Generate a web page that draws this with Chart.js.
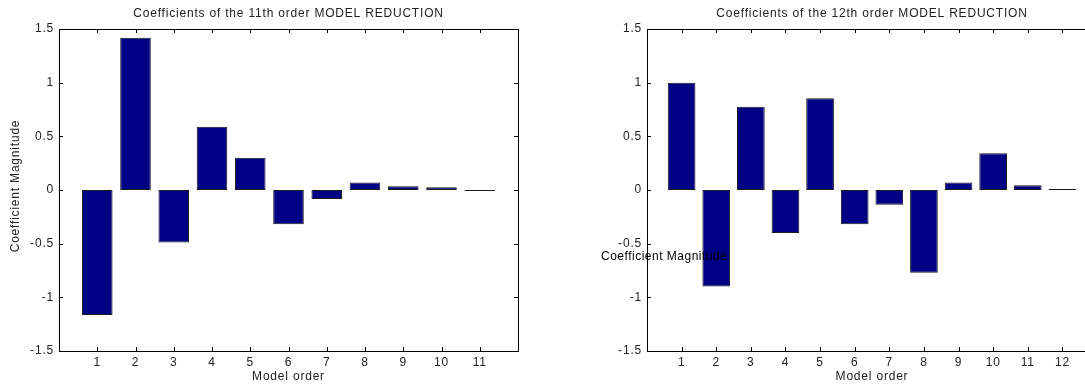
<!DOCTYPE html>
<html lang="en">
<head>
    <title>Coefficients of the MODEL REDUCTION</title>
    <meta charset="UTF-8">
    <style>
        html, body {
            margin: 0;
            padding: 0;
            background: #fff;
            overflow: hidden;
        }
        #page {
            position: relative;
            width: 1085px;
            height: 385px;
            overflow: hidden;
        }
        canvas {
            position: absolute;
            top: 0;
        }
        #chart-11 {
            left: 0;
        }
        #chart-12 {
            left: 545px;
        }
    </style>
</head>
<body>
<div id="page">
    <canvas id="chart-11" width="545" height="385"></canvas>
    <canvas id="chart-12" width="600" height="385"></canvas>
</div>
<script src="https://cdn.jsdelivr.net/npm/chart.js"></script>
<script>
    // values
    const orders11 = [1, 2, 3, 4, 5, 6, 7, 8, 9, 10, 11];
    const coefs11 = [-1.165, 1.418, -0.49, 0.59, 0.30, -0.32, -0.084, 0.07, 0.035, 0.025, -0.01];

    const orders12 = [1, 2, 3, 4, 5, 6, 7, 8, 9, 10, 11, 12];
    const coefs12 = [1.0, -0.90, 0.776, -0.40, 0.854, -0.32, -0.137, -0.772, 0.07, 0.343, 0.044, 0.01];

    const yTicks = [-1.5, -1, -0.5, 0, 0.5, 1, 1.5];

    const FONT = "Arial, 'Liberation Sans', sans-serif";
    const TEXT = '#222';

    // frame, inward tick marks and texts in the MATLAB style
    const matlabFrame = {
        id: 'matlabFrame',
        beforeDraw(chart) {
            chart.ctx.letterSpacing = '0.8px';
        },
        afterDraw(chart, args, opts) {
            const ctx = chart.ctx;
            const a = chart.chartArea;
            const xs = chart.scales.x;
            const ys = chart.scales.y;
            ctx.save();
            ctx.strokeStyle = '#000';
            ctx.lineWidth = 1;
            ctx.strokeRect(Math.round(a.left) + 0.5, Math.round(a.top) + 0.5,
                Math.round(a.right - a.left), Math.round(a.bottom - a.top));

            ctx.beginPath();
            opts.orders.forEach(o => {
                const px = Math.round(xs.getPixelForValue(o)) + 0.5;
                ctx.moveTo(px, a.top); ctx.lineTo(px, a.top + 4);
                ctx.moveTo(px, a.bottom); ctx.lineTo(px, a.bottom - 4);
            });
            yTicks.forEach(v => {
                const py = Math.round(ys.getPixelForValue(v)) + 0.5;
                ctx.moveTo(a.left, py); ctx.lineTo(a.left + 4, py);
                ctx.moveTo(a.right, py); ctx.lineTo(a.right - 4, py);
            });
            ctx.stroke();

            ctx.fillStyle = TEXT;
            ctx.font = '12px ' + FONT;
            ctx.letterSpacing = '0.8px';
            ctx.textAlign = 'center';
            ctx.textBaseline = 'middle';
            const cx = (a.left + a.right) / 2;
            ctx.fillText(opts.title, cx, 14);
            ctx.fillText('Model order', cx, 377);

            if (opts.rotatedLabel) {
                ctx.save();
                ctx.translate(16, 186);
                ctx.rotate(-Math.PI / 2);
                ctx.fillText('Coefficient Magnitude', 0, 0);
                ctx.restore();
            } else {
                ctx.fillStyle = '#000';
                ctx.letterSpacing = '0.5px';
                ctx.textAlign = 'left';
                ctx.fillText('Coefficient Magnitude', 56, 257);
            }
            ctx.restore();
        }
    };

    function makeChart(canvasId, orders, coefs, xMax, yWidth, padRight, title, rotatedLabel) {
        const ctx = document.getElementById(canvasId).getContext('2d');
        return new Chart(ctx, {
            type: 'bar',
            data: {
                datasets: [{
                    data: orders.map((o, i) => ({ x: o, y: coefs[i] })),
                    backgroundColor: '#000085',
                    borderColor: '#1a1a1a',
                    borderWidth: 1,
                    borderSkipped: false,
                    barPercentage: 0.8,
                    categoryPercentage: 1.0
                }]
            },
            options: {
                responsive: false,
                animation: false,
                devicePixelRatio: 1,
                layout: {
                    padding: { top: 29, right: padRight, left: 0, bottom: 0 }
                },
                plugins: {
                    legend: { display: false },
                    tooltip: { enabled: false },
                    matlabFrame: { title: title, orders: orders, rotatedLabel: rotatedLabel }
                },
                scales: {
                    x: {
                        type: 'linear',
                        offset: false,
                        min: 0,
                        max: xMax,
                        grid: { display: false, drawTicks: false },
                        border: { display: false },
                        afterFit: s => { s.height = 34; },
                        ticks: {
                            stepSize: 1,
                            autoSkip: false,
                            maxRotation: 0,
                            padding: 4,
                            color: TEXT,
                            font: { family: FONT, size: 12 },
                            callback: v => (orders.includes(v) ? String(v) : '')
                        }
                    },
                    y: {
                        min: -1.5,
                        max: 1.5,
                        grid: { display: false, drawTicks: false },
                        border: { display: false },
                        afterFit: s => { s.width = yWidth; },
                        ticks: {
                            stepSize: 0.5,
                            padding: 5,
                            color: TEXT,
                            font: { family: FONT, size: 12 },
                            callback: v => String(v)
                        }
                    }
                }
            },
            plugins: [matlabFrame]
        });
    }

    makeChart('chart-11', orders11, coefs11, 12, 59, 27,
        'Coefficients of the 11th order MODEL REDUCTION', true);
    makeChart('chart-12', orders12, coefs12, 13, 102, 48,
        'Coefficients of the 12th order MODEL REDUCTION', false);
</script>
</body>
</html>
